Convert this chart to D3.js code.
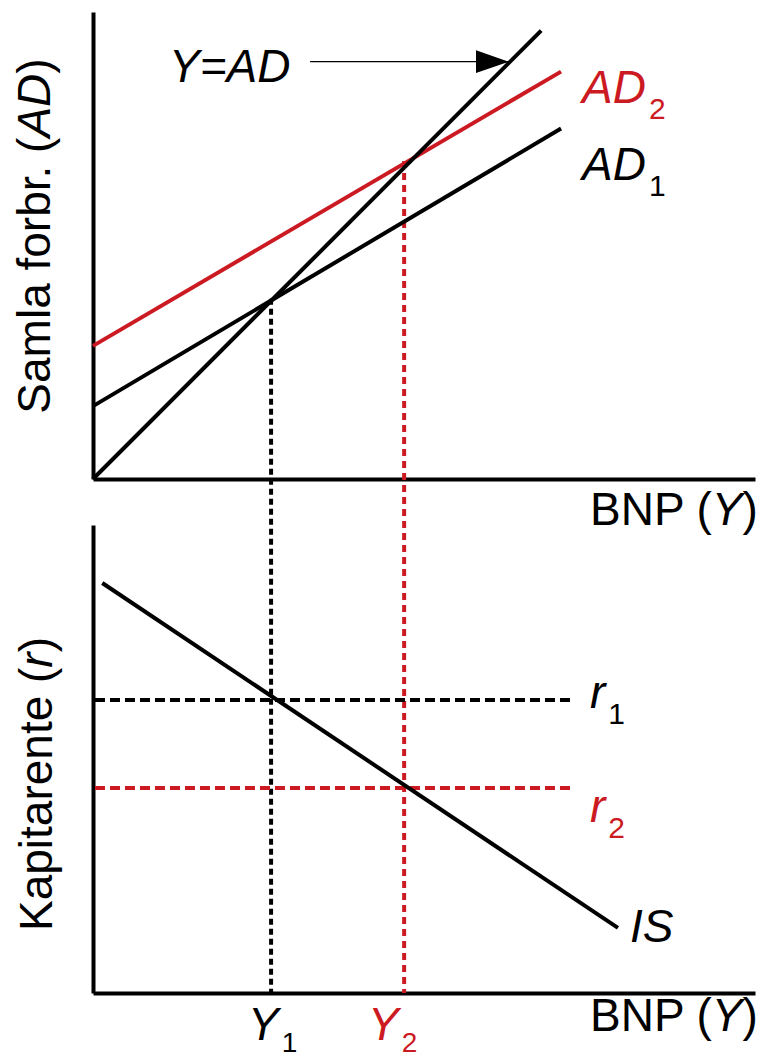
<!DOCTYPE html>
<html><head><meta charset="utf-8">
<script src="https://cdn.jsdelivr.net/npm/d3@7"></script>
<style>
html,body{margin:0;padding:0;background:#fff;}
text{font-family:"Liberation Sans",Arial,sans-serif;}
</style></head>
<body><svg id="c" width="761" height="1058"></svg>
<script>
// ---- data (abstract units) ----
const yadLine = [[0, 0], [67.7, 67.7]];          // Y = AD (45° line)
const ad1Line = [[0, 11.0], [70.7, 52.9]];       // AD1
const ad2Line = [[0, 20.1], [70.7, 61.5]];       // AD2
const equilibriumY = [26.9, 47.0];               // Y1, Y2
const equilibriumAD = [27.2, 48.0];              // AD at Y1, Y2
const isLine = [[1.4, 87.6], [79.3, 13.9]];      // IS curve (bottom)
const rates = [62.6, 43.8];                      // r1, r2
const rateLineEnd = 72.1;
const arrowLine = [[32.8, 63.0], [62.8, 63.0]];
const colBlack = "#000", colRed = "#cc1a22";

const svg = d3.select("#c");
const x = d3.scaleLinear().domain([0, 100]).range([93, 755]);
const yTop = d3.scaleLinear().domain([0, 70.5]).range([479, 12]);
const yBot = d3.scaleLinear().domain([0, 100]).range([993, 525]);
const FS = 46;
const SW = 4;

function axis(g) {
  g.selectAll(".domain").attr("stroke", "#000").attr("stroke-width", SW);
}
// axes
svg.append("g").attr("transform", `translate(0,${yTop(0)})`)
  .call(d3.axisBottom(x).tickValues([]).tickSizeOuter(0)).call(axis);
svg.append("g").attr("transform", `translate(${x(0)},0)`)
  .call(d3.axisLeft(yTop).tickValues([]).tickSizeOuter(0)).call(axis);
svg.append("g").attr("transform", `translate(0,${yBot(0)})`)
  .call(d3.axisBottom(x).tickValues([]).tickSizeOuter(0)).call(axis);
svg.append("g").attr("transform", `translate(${x(0)},0)`)
  .call(d3.axisLeft(yBot).tickValues([]).tickSizeOuter(0)).call(axis);

const lineTop = d3.line().x(d => x(d[0])).y(d => yTop(d[1]));
const lineBot = d3.line().x(d => x(d[0])).y(d => yBot(d[1]));

// dashed verticals (from top intersection to bottom axis)
equilibriumY.forEach((v, i) => {
  svg.append("line")
    .attr("x1", x(v)).attr("x2", x(v))
    .attr("y1", yTop(equilibriumAD[i])).attr("y2", yBot(0))
    .attr("stroke", i === 0 ? colBlack : colRed)
    .attr("stroke-width", 4)
    .attr("stroke-dasharray", i === 0 ? "6,4" : "7,5");
});
// dashed horizontals r1, r2
rates.forEach((r, i) => {
  svg.append("line")
    .attr("x1", x(0.3)).attr("x2", x(rateLineEnd))
    .attr("y1", yBot(r)).attr("y2", yBot(r))
    .attr("stroke", i === 0 ? colBlack : colRed)
    .attr("stroke-width", 4)
    .attr("stroke-dasharray", "10,5");
});

// solid lines
svg.append("path").attr("d", lineTop(ad2Line)).attr("fill", "none").attr("stroke", colRed).attr("stroke-width", SW);
svg.append("path").attr("d", lineTop(ad1Line)).attr("fill", "none").attr("stroke", colBlack).attr("stroke-width", SW);
svg.append("path").attr("d", lineTop(yadLine)).attr("fill", "none").attr("stroke", colBlack).attr("stroke-width", SW);
svg.append("path").attr("d", lineBot(isLine)).attr("fill", "none").attr("stroke", colBlack).attr("stroke-width", SW);

// arrow
svg.append("defs").append("marker").attr("id", "ah")
  .attr("markerUnits", "userSpaceOnUse").attr("markerWidth", 34).attr("markerHeight", 24)
  .attr("refX", 33).attr("refY", 11.5).attr("orient", "auto")
  .append("path").attr("d", "M0,0 L33,11.5 L0,23 Z").attr("fill", "#000");
svg.append("path").attr("d", lineTop(arrowLine)).attr("stroke", "#000").attr("stroke-width", 1.3)
  .attr("fill", "none").attr("marker-end", "url(#ah)");

// labels helper
function label(xp, yp, parts, color, anchor) {
  const t = svg.append("text").attr("x", xp).attr("y", yp).attr("fill", color)
    .attr("font-size", FS).attr("text-anchor", anchor || "start");
  parts.forEach(p => {
    const s = t.append("tspan").text(p.t);
    if (p.i) s.attr("font-style", "italic");
    if (p.sub) s.attr("font-size", p.fs || 30).attr("dy", p.dy != null ? p.dy : 16).attr("dx", 3);
  });
  return t;
}
label(169, 82, [{t: "Y=AD", i: true}], colBlack);
label(582, 103, [{t: "AD", i: true}, {t: "2", sub: true}], colRed);
label(582, 180, [{t: "AD", i: true}, {t: "1", sub: true}], colBlack);
label(590, 525, [{t: "BNP ("}, {t: "Y", i: true}, {t: ")"}], colBlack);
label(590, 1031, [{t: "BNP ("}, {t: "Y", i: true}, {t: ")"}], colBlack);
label(590, 708, [{t: "r", i: true}, {t: "1", sub: true}], colBlack);
label(590, 822, [{t: "r", i: true}, {t: "2", sub: true}], colRed);
label(630, 942, [{t: "IS", i: true}], colBlack);
label(248, 1040, [{t: "Y", i: true}, {t: "1", sub: true, dy: 12, fs: 28}], colBlack);
label(368, 1040, [{t: "Y", i: true}, {t: "2", sub: true, dy: 12, fs: 28}], colRed);

// rotated axis titles
const t1 = svg.append("text").attr("transform", "translate(50,236) rotate(-90)")
  .attr("text-anchor", "middle").attr("font-size", FS).attr("fill", "#000");
t1.append("tspan").text("Samla forbr. (");
t1.append("tspan").text("AD").attr("font-style", "italic");
t1.append("tspan").text(")");
const t2 = svg.append("text").attr("transform", "translate(52,784) rotate(-90)")
  .attr("text-anchor", "middle").attr("font-size", FS).attr("fill", "#000");
t2.append("tspan").text("Kapitarente (");
t2.append("tspan").text("r").attr("font-style", "italic");
t2.append("tspan").text(")");
</script></body></html>
